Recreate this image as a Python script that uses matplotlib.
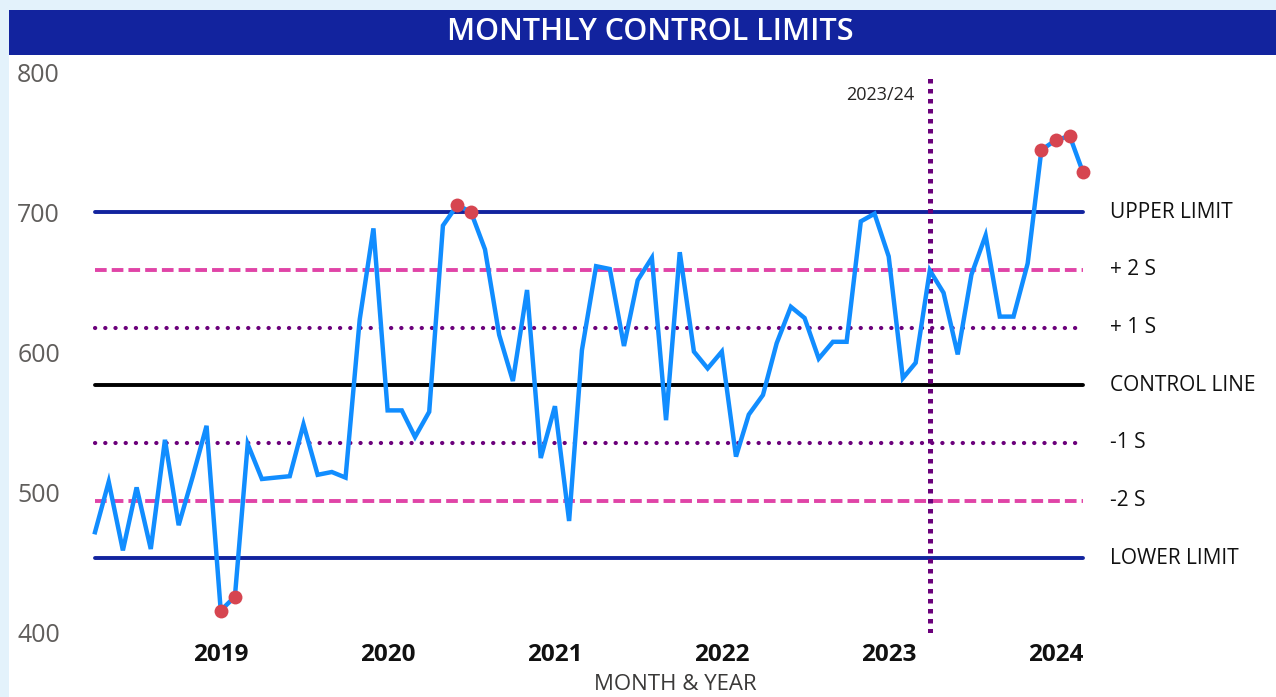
import numpy as np
import pandas as pd
import matplotlib
matplotlib.use("Agg")
import matplotlib.pyplot as plt
from matplotlib.patches import Rectangle

# monthly values, Apr 2018 .. Mar 2024
months = pd.date_range("2018-04-01", "2024-03-01", freq="MS")
values = [472, 508, 459, 504, 460, 538, 477, 512, 548, 416, 426, 535,
          510, 511, 512, 549, 513, 515, 511, 624, 689, 559, 559, 540,
          558, 691, 705.5, 701, 674, 613, 580, 645, 525, 562, 480, 602,
          662, 660, 605, 652, 668, 552, 672, 601, 589, 601, 526, 556,
          570, 607, 633, 625, 596, 608, 608, 694, 699.5, 669, 582, 593,
          659, 643, 599, 656, 684, 626, 626, 664, 745, 752, 755, 729]

centre = 577.0
sigma = 41.2
year_ticks = [2019, 2020, 2021, 2022, 2023, 2024]
y_ticks = [400, 500, 600, 700, 800]
split_date = pd.Timestamp("2023-04-01")
split_label = "2023/24"

values = np.array(values)
ucl = centre + 3 * sigma
lcl = centre - 3 * sigma

plt.rcParams['font.family'] = ['Open Sans', 'DejaVu Sans']

fig = plt.figure(figsize=(12.76, 6.97), dpi=100)
fig.patch.set_facecolor('#e3f2fb')
# white panel and title bar
fig.patches.append(Rectangle((9/1276, 0), 1, 1 - 10/697, transform=fig.transFigure,
                             facecolor='white', edgecolor='none', zorder=-2))
fig.patches.append(Rectangle((9/1276, 1 - 55/697), 1, 45/697, transform=fig.transFigure,
                             facecolor='#12239e', edgecolor='none', zorder=-1))
fig.text(650/1276, 1 - 32/697, "MONTHLY CONTROL LIMITS", color='white',
         fontsize=22, fontweight='semibold', ha='center', va='center')

ax = fig.add_axes([95/1276, 64/697, 988/1276, 560/697])
ax.set_facecolor('none')

x0, x1 = months[0], months[-1]
limit_lines = [
    (ucl, '#12239e', '-', "UPPER LIMIT"),
    (centre + 2 * sigma, '#e044a7', (0, (3.0, 1.3)), "+ 2 S"),
    (centre + sigma, '#6b007b', (0, (0.05, 2.4)), "+ 1 S"),
    (centre, '#000000', '-', "CONTROL LINE"),
    (centre - sigma, '#6b007b', (0, (0.05, 2.4)), "-1 S"),
    (centre - 2 * sigma, '#e044a7', (0, (3.0, 1.3)), "-2 S"),
    (lcl, '#12239e', '-', "LOWER LIMIT"),
]
for yv, col, ls, lab in limit_lines:
    if isinstance(ls, tuple) and ls[1][0] < 0.1:
        ax.plot([x0, x1], [yv, yv], color=col, lw=3.0, linestyle=ls,
                dash_capstyle='round', zorder=2, clip_on=False)
    else:
        ax.plot([x0, x1], [yv, yv], color=col, lw=2.8, linestyle=ls,
                solid_capstyle='round', zorder=2, clip_on=False)
    ax.text(1.027, yv, lab, transform=ax.get_yaxis_transform(), fontsize=15,
            fontweight='medium', color='#111111', ha='left', va='center')

ax.axvline(split_date, color='#6b007b', lw=3.6, linestyle=(0, (0.9, 1.1)),
           dash_capstyle='butt', zorder=2)
ax.annotate(split_label, xy=(split_date, 784), xytext=(-11, 0),
            textcoords='offset points', ha='right', va='center',
            fontsize=13, color='#252423')

ax.plot(months, values, color='#118dff', lw=3.2, zorder=3, clip_on=False,
        solid_joinstyle='miter')
out = (values > ucl) | (values < lcl)
ax.plot(months[out], values[out], 'o', color='#d64550', ms=10, mec='none',
        zorder=4, clip_on=False)

ax.set_xlim(x0, x1)
ax.set_ylim(400, 800)
ax.set_yticks(y_ticks)
ax.set_yticklabels([str(v) for v in y_ticks], fontsize=18, color='#605e5c')
for lab in ax.get_yticklabels():
    lab.set_ha('left')
ax.tick_params(axis='y', length=0, pad=56)
ax.set_xticks([pd.Timestamp(f"{y}-01-01") for y in year_ticks])
ax.set_xticklabels([str(y) for y in year_ticks], fontsize=17.5, fontweight='bold',
                   color='#111111')
ax.tick_params(axis='x', length=0, pad=7)
for s in ax.spines.values():
    s.set_visible(False)

fig.text(675/1276, 1 - 684/697, "MONTH & YEAR", fontsize=16, color='#3b3a39',
         ha='center', va='center')

fig.savefig("out.png", dpi=100, facecolor=fig.get_facecolor())
